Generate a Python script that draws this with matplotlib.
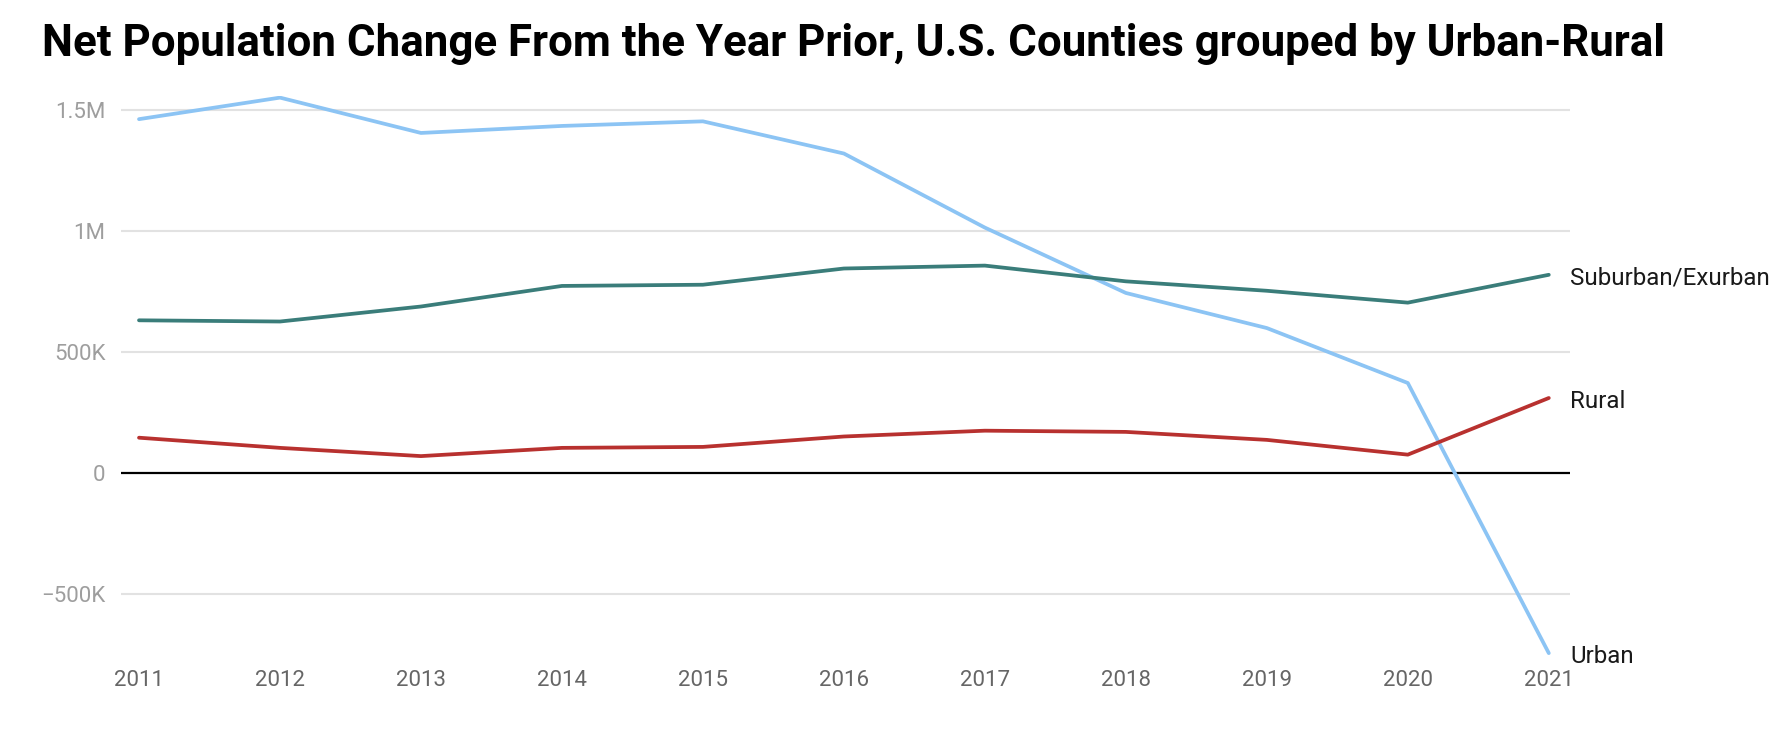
import matplotlib.pyplot as plt
from matplotlib.ticker import FuncFormatter

plt.rcParams['font.family'] = ['Roboto', 'DejaVu Sans']

years = list(range(2011, 2022))
urban = [1463, 1552, 1406, 1435, 1454, 1321, 1015, 745, 600, 373, -743]
suburban = [632, 627, 689, 774, 779, 846, 858, 793, 754, 705, 820]
rural = [147, 105, 71, 105, 109, 152, 176, 171, 138, 77, 311]
series = [('Urban', urban, '#8cc4f4'),
          ('Suburban/Exurban', suburban, '#3a7d7a'),
          ('Rural', rural, '#b8312f')]
yticks = [-500000, 0, 500000, 1000000, 1500000]


def fmt(v, pos):
    if v == 0:
        return '0'
    if abs(v) >= 1000000:
        s = '%gM' % (abs(v) / 1e6)
    else:
        s = '%gK' % (abs(v) / 1e3)
    return ('\u2212' if v < 0 else '') + s


fig = plt.figure(figsize=(17.92, 7.36), dpi=100)
ax = fig.add_axes([0.0675, 0.107, 0.8085, 0.763])

for y in yticks:
    if y == 0:
        ax.axhline(y, color='black', lw=1.6, zorder=1)
    else:
        ax.axhline(y, color='#e2e2e2', lw=1.5, zorder=0)

for name, vals, col in series:
    v = [x * 1000 for x in vals]
    ax.plot(years, v, color=col, lw=2.7, zorder=3, solid_capstyle='round')
    ax.text(2021.15, v[-1] - 15000, name, fontsize=17.4, color='#1a1a1a',
            va='center', ha='left')

ax.set_xlim(2010.872, 2021.149)
ax.set_ylim(-760000, 1560000)
ax.set_xticks(years)
ax.set_yticks(yticks)
ax.yaxis.set_major_formatter(FuncFormatter(fmt))
ax.tick_params(axis='x', length=0, pad=9, labelsize=16, labelcolor='#666666')
ax.tick_params(axis='y', length=0, pad=11, labelsize=16, labelcolor='#9e9e9e')
for s in ax.spines.values():
    s.set_visible(False)

fig.text(0.0235, 0.94, 'Net Population Change From the Year Prior, U.S. Counties grouped by Urban-Rural',
         fontsize=31.6, fontweight='bold', color='black', va='center', ha='left')

plt.savefig('out.png', dpi=100)
